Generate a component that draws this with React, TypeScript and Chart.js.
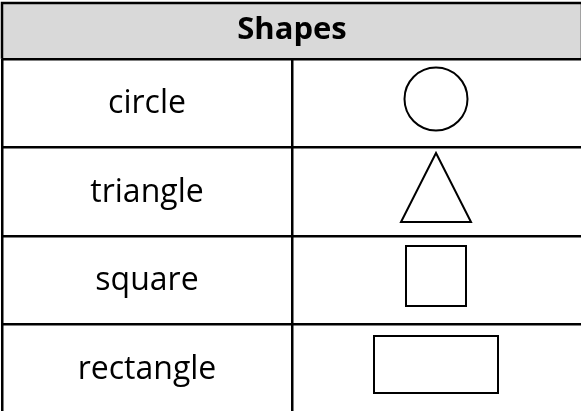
import React, { useEffect, useRef } from 'react';
import { Chart, registerables } from 'chart.js';

Chart.register(...registerables);

// ---- data ----
const headerTitle = 'Shapes';
const shapeNames = ['circle', 'triangle', 'square', 'rectangle'];
const columnKeys = ['name', 'shape'];
const shapeKinds = ['circle', 'triangle', 'square', 'rectangle'];

// ---- styles ----
const FONT_FAMILY = '"Open Sans", "Noto Sans", sans-serif';
const LINE = '#000000';
const HEADER_BG = '#d9d9d9';
const GRID_WIDTH = 2.5;

const SHAPE_DIMS: Record<string, [number, number]> = {
  circle: [64, 64],
  triangle: [70, 69],
  square: [60, 60],
  rectangle: [124, 57],
};

function makeShape(kind: string): HTMLCanvasElement {
  const [w, h] = SHAPE_DIMS[kind];
  const pad = 4;
  const lift = 8;
  const c = document.createElement('canvas');
  c.width = w + pad * 2 + 2;
  c.height = h + pad * 2 + lift;
  const ctx = c.getContext('2d') as CanvasRenderingContext2D;
  ctx.lineWidth = 2;
  ctx.strokeStyle = LINE;
  ctx.lineJoin = 'miter';
  const cx = pad + w / 2;
  const cy = pad + h / 2;
  ctx.beginPath();
  if (kind === 'circle') {
    ctx.arc(cx, cy, w / 2 - 0.5, 0, Math.PI * 2);
  } else if (kind === 'triangle') {
    ctx.moveTo(cx, cy - h / 2);
    ctx.lineTo(cx + w / 2, cy + h / 2);
    ctx.lineTo(cx - w / 2, cy + h / 2);
    ctx.closePath();
  } else {
    ctx.rect(cx - w / 2, cy - h / 2, w, h);
  }
  ctx.stroke();
  return c;
}

const tablePlugin = {
  id: 'tableCells',
  beforeDraw(chart: any) {
    const { ctx, chartArea } = chart;
    const tb = chart.titleBlock;
    const top = tb ? tb.top : 3;
    ctx.save();
    ctx.fillStyle = HEADER_BG;
    ctx.fillRect(chartArea.left, top, chartArea.right - chartArea.left, chartArea.top - top);
    ctx.strokeStyle = LINE;
    ctx.lineWidth = GRID_WIDTH;
    ctx.beginPath();
    ctx.moveTo(chartArea.left - 1.25, top);
    ctx.lineTo(chartArea.right + 1.25, top);
    ctx.moveTo(chartArea.left, top);
    ctx.lineTo(chartArea.left, chartArea.top);
    ctx.moveTo(chartArea.right, top);
    ctx.lineTo(chartArea.right, chartArea.top);
    ctx.stroke();
    ctx.restore();
  },
  afterDraw(chart: any) {
    const { ctx } = chart;
    const xs = chart.scales.x;
    const ys = chart.scales.y;
    ctx.save();
    ctx.fillStyle = '#000000';
    ctx.font = `32px ${FONT_FAMILY}`;
    ctx.textAlign = 'center';
    ctx.textBaseline = 'middle';
    const x = xs.getPixelForValue(0);
    shapeNames.forEach((name, i) => {
      ctx.fillText(name, x, ys.getPixelForValue(i) + 1);
    });
    ctx.restore();
  },
};

export default function App() {
  const ref = useRef<HTMLCanvasElement | null>(null);

  useEffect(() => {
    if (!ref.current) return;
    const images = shapeKinds.map(makeShape);
    const gridOpts = {
      offset: true,
      color: LINE,
      lineWidth: GRID_WIDTH,
      drawTicks: false,
    };
    const chart = new Chart(ref.current, {
      type: 'scatter',
      data: {
        datasets: [
          {
            data: shapeNames.map((n) => ({ x: 'shape', y: n })) as any,
            pointStyle: images as any,
            pointRadius: 10,
            pointHoverRadius: 10,
            borderColor: LINE,
            backgroundColor: 'rgba(0,0,0,0)',
          },
        ],
      },
      options: {
        responsive: false,
        animation: false,
        events: [],
        layout: { autoPadding: false, padding: { left: 2, top: 3, right: 2, bottom: 3.25 } },
        plugins: {
          legend: { display: false },
          tooltip: { enabled: false },
          title: {
            display: true,
            text: headerTitle,
            color: '#000000',
            font: { family: FONT_FAMILY, size: 31, weight: 'bold', lineHeight: 1 },
            padding: { top: 12, bottom: 12.75 },
          },
        },
        scales: {
          x: {
            type: 'category',
            labels: columnKeys,
            offset: true,
            grid: gridOpts,
            border: { display: false },
            ticks: { display: false },
          },
          y: {
            type: 'category',
            labels: shapeNames,
            offset: true,
            grid: gridOpts,
            border: { display: false },
            ticks: { display: false },
          },
        },
      } as any,
      plugins: [tablePlugin],
    });
    return () => chart.destroy();
  }, []);

  return (
    <div
      style={{
        position: 'fixed',
        left: 0,
        top: 0,
        width: 581,
        height: 411,
        overflow: 'hidden',
        background: '#ffffff',
      }}
    >
      <canvas ref={ref} width={584} height={416} style={{ display: 'block' }} />
    </div>
  );
}
